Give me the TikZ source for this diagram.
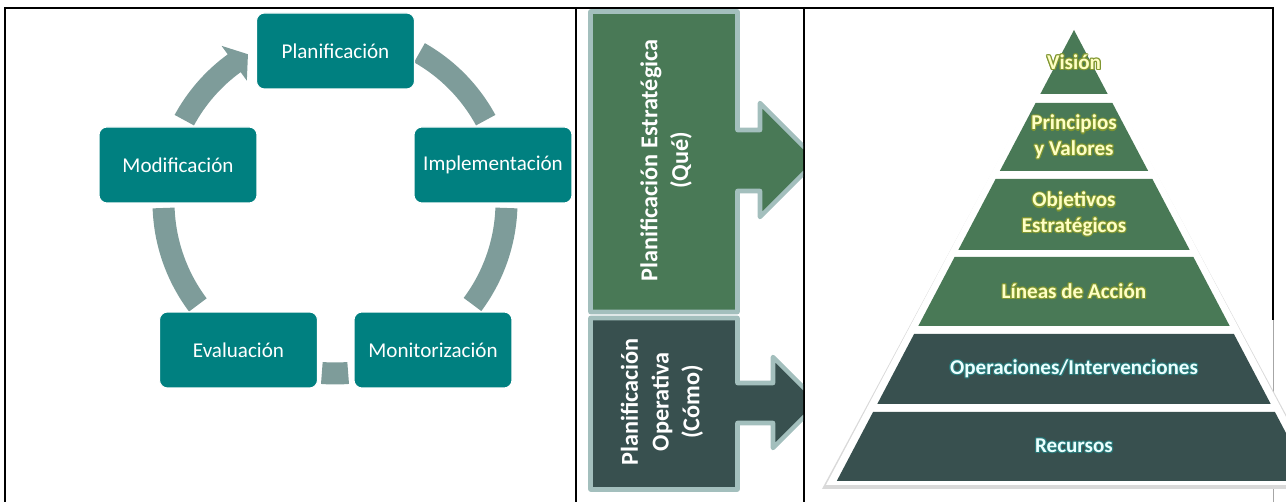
\documentclass[tikz,border=0pt]{standalone}
\usepackage{fontspec}
\setmainfont{Carlito}
\usepackage{xcolor}
\usepackage{tikz}
\usetikzlibrary{shapes,arrows,positioning,calc}

\definecolor{cajaverde}{RGB}{0,128,128}
\definecolor{flechagris}{RGB}{126,156,154}
\definecolor{verdeestr}{RGB}{73,121,86}
\definecolor{grisoper}{RGB}{56,80,79}
\definecolor{bordeclaro}{RGB}{163,191,189}
\definecolor{textoamarillo}{RGB}{255,255,196}
\definecolor{textoclaro}{RGB}{236,255,255}
\definecolor{brilloverde}{RGB}{128,150,48}
\definecolor{brilloazul}{RGB}{40,120,120}

\tikzset{
    fase/.style={rectangle, rounded corners=4.5pt, fill=cajaverde, draw=white, line width=0.6pt,
        minimum width=3.16cm, minimum height=1.52cm, inner sep=0pt, text=white,
        font=\fontsize{12}{14}\selectfont},
    bloque/.style={rotate=90, align=center, text=white, inner sep=0pt,
        font=\bfseries\fontsize{13.8}{17.5}\selectfont},
    nivel/.style={align=center, inner sep=0pt, font=\bfseries\fontsize{12}{14.5}\selectfont}
}

% text of a pyramid level with a glow round it: name, position, text, colour, glow colour
\newcommand{\textobrillo}[5]{%
    \foreach \dx/\dy in {-1.2/0, 1.2/0, 0/-1.2, 0/1.2, -0.85/-0.85, 0.85/0.85, -0.85/0.85, 0.85/-0.85}
        \node[nivel, text=#5] at ($(#2)+(\dx,\dy)$) {#3};
    \node[nivel, text=#4] (#1) at (#2) {#3};
}

\begin{document}
\begin{tikzpicture}[x=0.02cm,y=-0.02cm]
            \useasboundingbox (0,0) rectangle (1286,502);
            % draw the table borders
            \draw[line width=1.1pt] (5,502) -- (5,8) -- (1273,8) -- (1273,320);
            \draw[gray!70, line width=0.5pt] (1273,320) -- (1273,502);
            \draw[line width=1.1pt] (576,8) -- (576,502);
            \draw[line width=1.1pt] (804,8) -- (804,502);
            % draw the gray arcs of the cycle round its center
            \coordinate (cyc) at (335,202);
            \foreach \a/\b in {-60.5/-28.5, 2/36.7, 85.6/94.4, 143.1/178}
            {
                \fill[flechagris] ($(cyc)+(\a:182.5)$) arc[start angle=\a, end angle=\b, radius=182.5]
                    -- ($(cyc)+(\b:160.5)$) arc[start angle=\b, end angle=\a, radius=160.5] -- cycle;
            }
            % the last arc ends with an arrow head towards Planificacion
            \fill[flechagris] ($(cyc)+(208.5:182.5)$) arc[start angle=208.5, end angle=234, radius=182.5]
                -- ($(cyc)+(234:193)$) -- ($(cyc)+(239.5:171.5)$) -- ($(cyc)+(234:150)$)
                -- ($(cyc)+(234:160.5)$) arc[start angle=234, end angle=208.5, radius=160.5] -- cycle;
            % the five phases
            \node[fase] (plan) at (335.5,51) {Planificación};
            \node[fase] (impl) at (493,165) {Implementación};
            \node[fase] (moni) at (433,350) {Monitorización};
            \node[fase] (eval) at (238.5,350) {Evaluación};
            \node[fase] (modi) at (178,165) {Modificación};
            % draw the two arrow blocks, cut at the cell border
            \begin{scope}
                \clip (577,8) rectangle (803,502);
                \filldraw[fill=verdeestr, draw=bordeclaro, line width=2.6pt, line join=round]
                    (590.5,11.5) -- (737.5,11.5) -- (737.5,130) -- (760,130) -- (760,103) -- (817,160)
                    -- (760,217) -- (760,191) -- (737.5,191) -- (737.5,312) -- (590.5,312) -- cycle;
                \filldraw[fill=grisoper, draw=bordeclaro, line width=2.6pt, line join=round]
                    (590.5,318) -- (737.5,318) -- (737.5,383) -- (773,383) -- (773,357) -- (818.5,402.5)
                    -- (773,448) -- (773,423) -- (737.5,423) -- (737.5,489.5) -- (590.5,489.5) -- cycle;
            \end{scope}
            \node[bloque] (estr) at (666,160.5) {Planificación Estratégica\\(Qué)};
            \node[bloque] (oper) at (662,402) {Planificación\\Operativa\\(Cómo)};
            % white outline and shadow of the pyramid
            \fill[black!15] (1074,20) -- (1326,489) -- (822,489) -- cycle;
            \fill[white] (1074,17) -- (1322,485) -- (826,485) -- cycle;
            % draw the six levels of the pyramid
            \foreach \a/\b/\c in {30/94/verdeestr, 103/171/verdeestr, 179/250/verdeestr, 257/326/verdeestr, 334/404/grisoper, 412/481/grisoper}
            {
                \fill[\c] ({1074-0.526*(\a-30)},\a) -- ({1074+0.526*(\a-30)},\a)
                    -- ({1074+0.526*(\b-30)},\b) -- ({1074-0.526*(\b-30)},\b) -- cycle;
            }
            \textobrillo{vis}{1074,62}{Visión}{textoamarillo}{brilloverde}
            \textobrillo{prin}{1074,137}{Principios\\y Valores}{textoamarillo}{brilloverde}
            \textobrillo{obj}{1074,214}{Objetivos\\Estratégicos}{textoamarillo}{brilloverde}
            \textobrillo{lin}{1074,291}{Líneas de Acción}{textoamarillo}{brilloverde}
            \textobrillo{ope}{1074,369}{Operaciones/Intervenciones}{textoclaro}{brilloazul}
            \textobrillo{rec}{1074,446}{Recursos}{textoclaro}{brilloazul}
\end{tikzpicture}
\end{document}
